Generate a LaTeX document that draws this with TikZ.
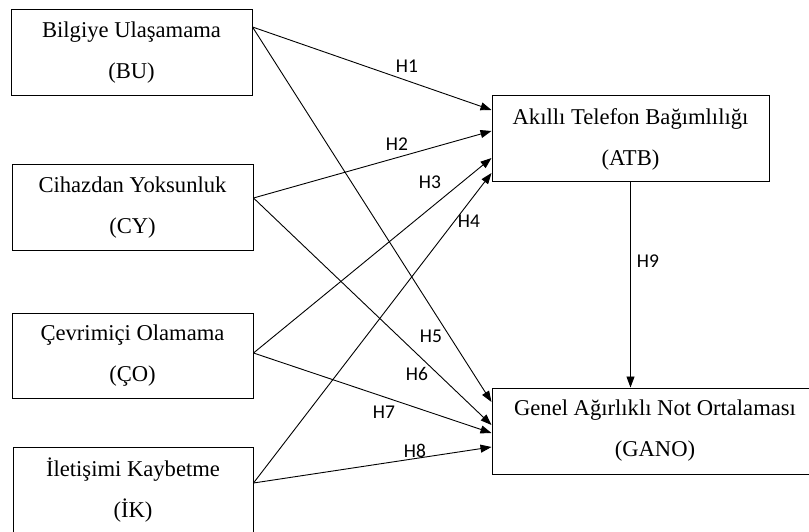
\documentclass[tikz,border=0pt]{standalone}
\usepackage{fontspec}
\setmainfont{Liberation Serif}
\newfontfamily\hypfont{Carlito}
\usetikzlibrary{arrows.meta}

\begin{document}
\begin{tikzpicture}[x=1pt, y=-1pt,
        box/.style={draw, rectangle, line width=1pt, inner sep=0pt, align=center, font=\fontsize{22.6}{41}\selectfont, execute at begin node=\rule{0pt}{20pt}},
        hyp/.style={font=\hypfont\fontsize{19.5}{22}\selectfont, inner sep=0pt},
        arr/.style={-{Triangle[length=11pt, width=8pt]}, line width=0.9pt}]
        \useasboundingbox (0, 0) rectangle (809, 532);
        \clip (0, 0) rectangle (809, 532);
        % Nodes
        \node[box, minimum width=241pt, minimum height=86pt] (bu) at (131.5, 53) {Bilgiye Ulaşamama\\(BU)};
        \node[box, minimum width=241pt, minimum height=85pt] (cy) at (132.5, 207.5) {Cihazdan Yoksunluk\\(CY)};
        \node[box, minimum width=241pt, minimum height=85pt] (co) at (132.5, 355.5) {Çevrimiçi Olamama\\(ÇO)};
        \node[box, minimum width=240pt, minimum height=86pt] (ik) at (133, 490) {İletişimi Kaybetme\\(İK)};
        \node[box, minimum width=277pt, minimum height=86pt] (atb) at (630.5, 139) {Akıllı Telefon Bağımlılığı\\(ATB)};
        \node[box, minimum width=326pt, minimum height=86pt] (gano) at (655, 431) {Genel Ağırlıklı Not Ortalaması\\(GANO)};

        % Arrows
        \draw[arr] ([yshift=26pt]bu.east) -- ([yshift=29pt]atb.west);
        \draw[arr] ([yshift=26pt]bu.east) -- ([yshift=29pt]gano.west);
        \draw[arr] ([yshift=9.5pt]cy.east) -- ([yshift=8pt]atb.west);
        \draw[arr] ([yshift=9.5pt]cy.east) -- ([yshift=6pt]gano.west);
        \draw[arr] ([yshift=2.5pt]co.east) -- ([yshift=-19pt]atb.west);
        \draw[arr] ([yshift=2.5pt]co.east) -- ([yshift=-2pt]gano.west);
        \draw[arr] ([yshift=7pt]ik.east) -- ([yshift=-34pt]atb.west);
        \draw[arr] ([yshift=7pt]ik.east) -- ([yshift=-16pt]gano.west);
        \draw[arr] (atb.south) -- (atb.south |- gano.north);

        % Labels
        \node[hyp] (h1) at (407, 66) {H1};
        \node[hyp] (h2) at (397, 144) {H2};
        \node[hyp] (h3) at (430, 182) {H3};
        \node[hyp] (h4) at (469, 221) {H4};
        \node[hyp] (h5) at (431, 336) {H5};
        \node[hyp] (h6) at (417, 374) {H6};
        \node[hyp] (h7) at (384, 412) {H7};
        \node[hyp] (h8) at (415, 451) {H8};
        \node[hyp] (h9) at (648, 261) {H9};
\end{tikzpicture}
\end{document}
